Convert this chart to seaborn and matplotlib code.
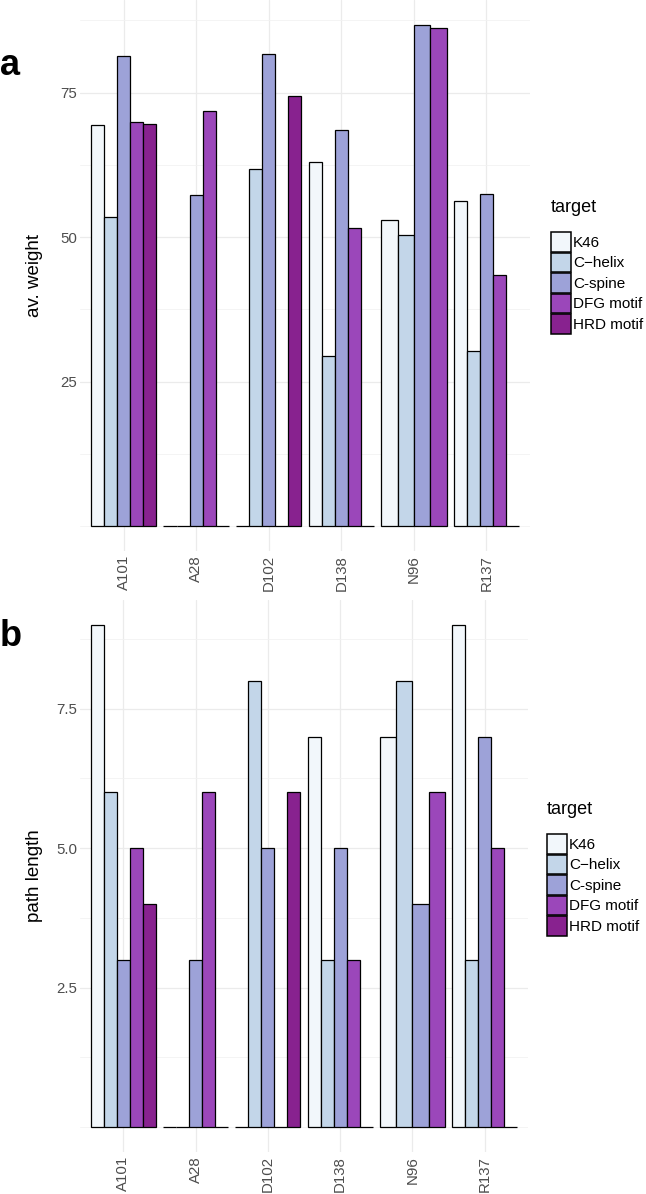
import numpy as np
import pandas as pd
import matplotlib
matplotlib.use("Agg")
import matplotlib.pyplot as plt
import seaborn as sns
from matplotlib.patches import Patch

# residues on the x axis and the targets used as hue
sites = ["A101", "A28", "D102", "D138", "N96", "R137"]
targets = ["K46", "C\u2212helix", "C-spine", "DFG motif", "HRD motif"]
colors = ["#F2F7FB", "#C3D6E9", "#9DA2D8", "#9B47BA", "#88228F"]

# panel a: av. weight (nan = no row for that site/target)
weight_k46 = [69.4, 0, 0, 63.0, 53.0, 56.3]
weight_chelix = [53.5, 0, 61.7, 29.5, 50.4, 30.2]
weight_cspine = [81.3, 57.2, 81.7, 68.5, 86.7, 57.5]
weight_dfg = [69.9, 71.8, 0, 51.6, 86.2, 43.5]
weight_hrd = [69.6, 0, 74.5, 0, np.nan, 0]

# panel b: path length
path_k46 = [9, 0, 0, 7, 7, 9]
path_chelix = [6, 0, 8, 3, 8, 3]
path_cspine = [3, 3, 5, 5, 4, 7]
path_dfg = [5, 6, 0, 3, 6, 5]
path_hrd = [4, 0, 6, 0, np.nan, 0]


def long_table(series):
    rows = []
    for tgt, vals in zip(targets, series):
        for s, v in zip(sites, vals):
            rows.append({"site": s, "target": tgt, "value": v})
    return pd.DataFrame(rows).dropna()


df_a = long_table([weight_k46, weight_chelix, weight_cspine, weight_dfg, weight_hrd])
df_b = long_table([path_k46, path_chelix, path_cspine, path_dfg, path_hrd])
pal = dict(zip(targets, colors))

sns.set_style("white")
plt.rcParams["font.family"] = ["Liberation Sans", "DejaVu Sans"]
plt.rcParams["text.color"] = "black"
plt.rcParams["axes.labelcolor"] = "black"

fig = plt.figure(figsize=(6.46, 11.94), dpi=100)
W, H = 646, 1194
ax_a = fig.add_axes([80 / W, 1 - 551 / H, 450 / W, 551 / H])
ax_b = fig.add_axes([80 / W, 1 - 1152 / H, 448 / W, 552 / H])


def draw_panel(ax, df, major, minor, ticklabels, ylabel):
    # ggplot-style dodge: each site only splits its width between the targets it has
    for s in sites:
        sub = df[df["site"] == s]
        present = [t for t in targets if t in set(sub["target"])]
        sns.barplot(data=sub, x="site", y="value", hue="target", order=sites,
                    hue_order=present, palette=pal, width=0.9, dodge=True,
                    saturation=1, edgecolor="black", linewidth=0.9,
                    errorbar=None, legend=False, ax=ax, zorder=3)
    top = df["value"].max()
    ax.set_ylim(-0.05 * top, top * 1.05)
    ax.set_xlim(-0.6, len(sites) - 0.4)
    ax.set_yticks(major)
    ax.set_yticklabels(ticklabels)
    ax.set_yticks(minor, minor=True)
    ax.grid(True, which="major", color="#EBEBEB", linewidth=0.9, zorder=0)
    ax.grid(True, which="minor", axis="y", color="#F2F2F2", linewidth=0.6, zorder=0)
    ax.set_axisbelow(True)
    for sp in ax.spines.values():
        sp.set_visible(False)
    ax.tick_params(axis="both", which="both", length=0, labelsize=10.8,
                   labelcolor="#4D4D4D")
    ax.tick_params(axis="y", pad=2)
    ax.tick_params(axis="x", pad=3)
    for lab in ax.get_xticklabels():
        lab.set_rotation(90)
        lab.set_va("top")
    ax.set_xlabel("")
    ax.set_ylabel(ylabel, fontsize=13.5, color="black")
    ax.yaxis.set_label_coords((43 - 80) / 450, 0.5)


draw_panel(ax_a, df_a, [25, 50, 75], [0, 12.5, 37.5, 62.5, 87.5],
           ["25", "50", "75"], "av. weight")
draw_panel(ax_b, df_b, [2.5, 5.0, 7.5], [0, 1.25, 3.75, 6.25, 8.75],
           ["2.5", "5.0", "7.5"], "path length")

handles = [Patch(facecolor=c, edgecolor="black", linewidth=1.1) for c in colors]
for key_x, title_y, key_y in [(551, 208, 232), (547, 809, 834)]:
    fig.text(key_x / W, 1 - title_y / H, "target", fontsize=13, va="center", ha="left")
    fig.legend(handles, targets, loc="upper left",
               bbox_to_anchor=(key_x / W, 1 - key_y / H), frameon=False,
               fontsize=11, handlelength=1.29, handleheight=1.6,
               labelspacing=0.06, handletextpad=0.15, borderpad=0, borderaxespad=0)

fig.text(0, 1 - 75 / H, "a", fontsize=26, fontweight="bold", va="baseline")
fig.text(0, 1 - 646 / H, "b", fontsize=26, fontweight="bold", va="baseline")

fig.savefig("out.png", dpi=100)
